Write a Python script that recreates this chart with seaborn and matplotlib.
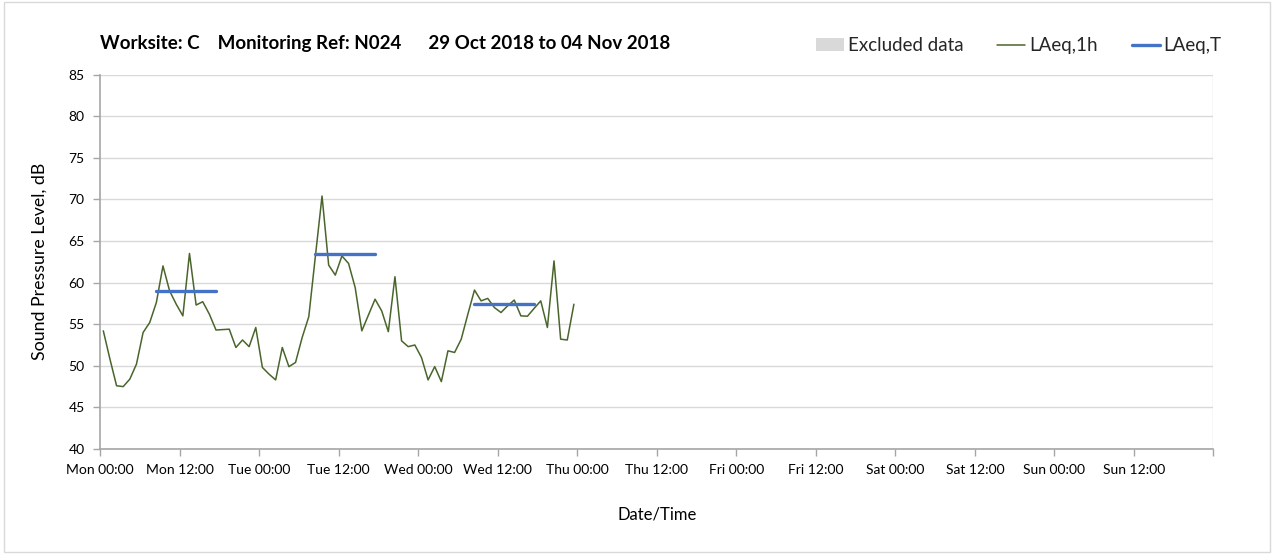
import numpy as np
import pandas as pd
import matplotlib
matplotlib.use("Agg")
import matplotlib.pyplot as plt
from matplotlib.patches import Patch, Rectangle
from matplotlib.lines import Line2D
import seaborn as sns

# ---------------- data ----------------
title_text = "Worksite: C    Monitoring Ref: N024      29 Oct 2018 to 04 Nov 2018"
tick_labels = ["Mon 00:00", "Mon 12:00", "Tue 00:00", "Tue 12:00", "Wed 00:00",
               "Wed 12:00", "Thu 00:00", "Thu 12:00", "Fri 00:00", "Fri 12:00",
               "Sat 00:00", "Sat 12:00", "Sun 00:00", "Sun 12:00"]

# hourly LAeq,1h values from Mon 00:00 onwards
laeq_1h = [54.2, 50.8, 47.6, 47.5, 48.4, 50.2, 54.0, 55.2, 57.6, 62.0,
           59.0, 57.4, 56.0, 63.5, 57.3, 57.7, 56.2, 54.3, 54.35, 54.4,
           52.2, 53.1, 52.3, 54.6, 49.8, 49.0, 48.3, 52.2, 49.9, 50.4,
           53.4, 55.9, 63.2, 70.4, 62.1, 60.9, 63.2, 62.3, 59.4, 54.2,
           56.1, 58.0, 56.6, 54.1, 60.7, 53.0, 52.3, 52.5, 51.0, 48.3,
           49.9, 48.1, 51.8, 51.6, 53.2, 56.2, 59.1, 57.8, 58.1, 57.0,
           56.4, 57.2, 57.9, 56.0, 55.96, 56.9, 57.8, 54.6, 62.6, 53.2,
           53.1, 57.4]

# daytime LAeq,T periods (hour index of start / end) and levels
period_start = [8, 32, 56]
period_end = [17, 41, 65]
laeq_T = [59.0, 63.4, 57.4]

# ---------------- frames ----------------
hours = np.arange(len(laeq_1h)) + 0.5
df_1h = pd.DataFrame({"hour": hours, "level": laeq_1h})

rows = []
for k, (s, e, v) in enumerate(zip(period_start, period_end, laeq_T)):
    rows.append({"period": k, "hour": s + 0.5, "level": v})
    rows.append({"period": k, "hour": e + 0.5, "level": v})
df_T = pd.DataFrame(rows)

# ---------------- style ----------------
sns.set_theme(style="white")
plt.rcParams["font.family"] = ["Lato", "DejaVu Sans"]

GREEN = "#4A652C"
BLUE = "#4472C4"
GRID = "#D9D9D9"
AXIS = "#A6A6A6"

fig = plt.figure(figsize=(12.74, 5.54), dpi=100)
ax = fig.add_axes([0.0785, 0.1895, 0.874, 0.676])

sns.lineplot(data=df_1h, x="hour", y="level", ax=ax, color=GREEN,
             linewidth=1.1, estimator=None, legend=False, zorder=3)
sns.lineplot(data=df_T, x="hour", y="level", units="period", ax=ax,
             color=BLUE, linewidth=2.4, estimator=None, legend=False, zorder=4)

ax.set_xlim(0, 168)
ax.set_ylim(40, 85)

ax.set_xticks(np.arange(0, 168, 12))
ax.set_xticklabels(tick_labels, fontsize=10, color="#000000")
ax.set_xticks(np.arange(0, 169, 24), minor=True)
ax.set_yticks(np.arange(40, 86, 5))
ax.set_yticklabels([str(v) for v in range(40, 86, 5)], fontsize=10, color="#000000")

ax.tick_params(axis="x", which="both", direction="out", length=5, width=1,
               color=AXIS, pad=6, bottom=True)
ax.tick_params(axis="y", which="major", direction="out", length=5, width=1,
               color=AXIS, pad=6, left=True)

ax.grid(False)
ax.grid(axis="y", which="major", color=GRID, linewidth=1.0)
ax.grid(axis="x", which="minor", color=GRID, linewidth=1.0)
ax.set_axisbelow(True)

for side in ["top", "right"]:
    ax.spines[side].set_visible(False)
for side in ["left", "bottom"]:
    ax.spines[side].set_color(AXIS)
    ax.spines[side].set_linewidth(1.2)

ax.set_xlabel("Date/Time", fontsize=12, labelpad=22, color="#000000")
ax.set_ylabel("Sound Pressure Level, dB", fontsize=12.8, labelpad=15, color="#000000")

fig.text(0.0785, 0.922, title_text, fontsize=13.5, fontweight="bold",
         ha="left", va="center", color="#000000")

handles = [Patch(facecolor=GRID, edgecolor="none"),
           Line2D([], [], color=GREEN, linewidth=1.1),
           Line2D([], [], color=BLUE, linewidth=2.4)]
labels = ["Excluded data", "LAeq,1h", "LAeq,T"]
fig.legend(handles, labels, loc="center right", bbox_to_anchor=(0.972, 0.917),
           ncol=3, frameon=False, fontsize=13.5, handlelength=1.5,
           handletextpad=0.2, columnspacing=1.8)

fig.patches.append(Rectangle((0.003, 0.004), 0.994, 0.992, transform=fig.transFigure,
                             fill=False, edgecolor=GRID, linewidth=1.0))

fig.savefig("out.png", dpi=100, facecolor="white")
